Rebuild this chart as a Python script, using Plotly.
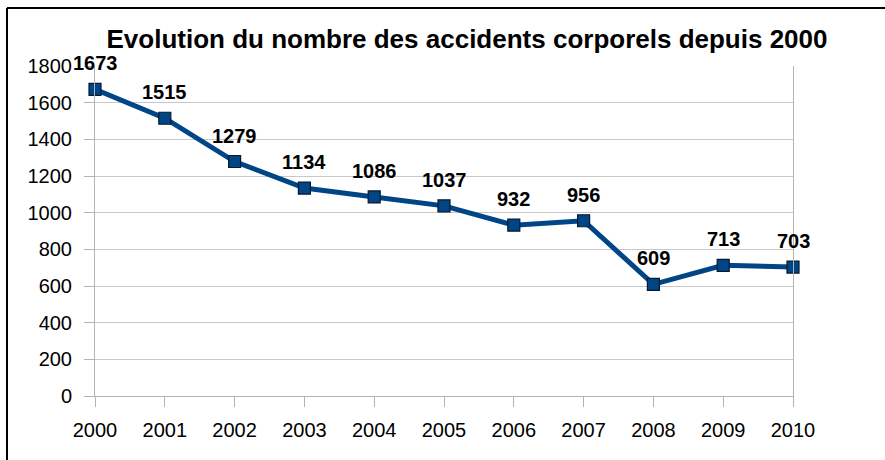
import plotly.graph_objects as go

years = [2000, 2001, 2002, 2003, 2004, 2005, 2006, 2007, 2008, 2009, 2010]
accidents = [1673, 1515, 1279, 1134, 1086, 1037, 932, 956, 609, 713, 703]
y_ticks = [0, 200, 400, 600, 800, 1000, 1200, 1400, 1600, 1800]
title = "Evolution du nombre des accidents corporels depuis 2000"

L, R, T, B = 95, 92, 66, 64
W, H = 885, 460
pw, ph = W - L - R, H - T - B
FONT = "Liberation Sans, Arial"

fig = go.Figure()
fig.add_trace(go.Scatter(
    x=years, y=accidents, mode="lines+markers",
    line=dict(color="#004586", width=5),
    marker=dict(symbol="square", size=12, color="#004586", line=dict(color="#061a30", width=1.2)),
    cliponaxis=False, showlegend=False, hoverinfo="x+y",
))

annotations = [
    dict(x=x, y=v, xref="x", yref="y", text="<b>%d</b>" % v, showarrow=False,
         yshift=26, yanchor="middle", xanchor="center",
         font=dict(family=FONT, size=20, color="black"))
    for x, v in zip(years, accidents)
]

fig.update_layout(
    width=W, height=H,
    margin=dict(l=L, r=R, t=T, b=B),
    paper_bgcolor="white", plot_bgcolor="white",
    font=dict(family=FONT, size=20, color="black"),
    title=dict(text="<b>" + title + "</b>", x=(467 - L) / pw, xref="paper", xanchor="center",
               y=1 - 39 / H, yanchor="middle", font=dict(size=26, color="black")),
    xaxis=dict(range=[2000, 2010], tickmode="array", tickvals=years, ticktext=[str(y) for y in years],
               showgrid=False,
               showline=True, linecolor="#b3b3b3", linewidth=1,
               ticks="outside", ticklen=10, tickcolor="#b3b3b3", zeroline=False,
               ticklabelstandoff=6, tickfont=dict(size=20)),
    yaxis=dict(range=[0, 1800], tickmode="array", tickvals=y_ticks,
               showgrid=True, gridcolor="#c8c8c8", gridwidth=1,
               showline=True, linecolor="#b3b3b3", linewidth=1, mirror=True,
               ticks="outside", ticklen=10, tickcolor="#b3b3b3", zeroline=False,
               ticklabelstandoff=8, tickfont=dict(size=20)),
    annotations=annotations,
    shapes=[
        dict(type="line", xref="paper", yref="paper",
             x0=(7 - L) / pw, x1=(W - L) / pw, y0=1 + (T - 8) / ph, y1=1 + (T - 8) / ph,
             line=dict(color="black", width=2)),
        dict(type="line", xref="paper", yref="paper",
             x0=(7 - L) / pw, x1=(7 - L) / pw, y0=-(B) / ph, y1=1 + (T - 8) / ph,
             line=dict(color="black", width=2)),
    ],
)
fig.write_html("out.html", config={"displayModeBar": False},
               post_script="document.body.style.margin='0px';")
